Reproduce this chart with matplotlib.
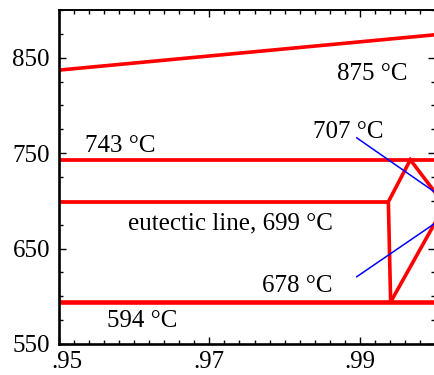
import numpy as np
import matplotlib.pyplot as plt
import matplotlib.transforms as mtransforms
from matplotlib.ticker import MultipleLocator, FixedLocator, FixedFormatter

plt.rcParams['font.family'] = ['Liberation Serif', 'DejaVu Serif']

# phase boundaries (mole fraction, temperature in C)
liquidus_x = [0.95, 1.0]
liquidus_t = [837, 874]
t_743 = 743
t_699 = 699
t_594 = 594
eutectic_end = 0.9938
bound_x = [0.9941, 0.9938, 0.99672, 1.0]
bound_t = [594, 699, 743, 709]
lower_x = [0.9941, 1.0]
lower_t = [594, 677]

# pointer lines for labels
ptr707_x = [0.9896, 1.0]
ptr707_t = [766, 709]
ptr678_x = [0.9896, 1.0]
ptr678_t = [620.5, 676.5]

# labels: (x, t, text, ha)
labels = [
    (0.99161, 826.6, '875 °C', 'center'),
    (0.98846, 765.6, '707 °C', 'center'),
    (0.95346, 751.5, '743 °C', 'left'),
    (0.95922, 669.5, 'eutectic line, 699 °C', 'left'),
    (0.98163, 604.8, '678 °C', 'center'),
    (0.95635, 567.8, '594 °C', 'left'),
]

fig = plt.figure(figsize=(4.35, 3.75), dpi=100)
ax = fig.add_axes([0.1356, 0.0827, 0.8644, 0.8907])

red = '#ff0000'
ax.plot(liquidus_x, liquidus_t, color=red, lw=2.6, solid_capstyle='butt')
ax.plot([0.95, 1.0], [t_743, t_743], color=red, lw=2.7, solid_capstyle='butt')
ax.plot([0.95, eutectic_end], [t_699, t_699], color=red, lw=2.7, solid_capstyle='butt')
ax.plot([0.95, 1.0], [t_594, t_594], color=red, lw=3.3, solid_capstyle='butt')
ax.plot(bound_x, bound_t, color=red, lw=2.6, solid_joinstyle='miter')
ax.plot(lower_x, lower_t, color=red, lw=2.6)
ax.plot(ptr707_x, ptr707_t, color='#0000ff', lw=1.1)
ax.plot(ptr678_x, ptr678_t, color='#0000ff', lw=1.1)

fs = 18
for x, t, s, ha in labels:
    ax.text(x, t, s, fontsize=fs, ha=ha, va='baseline')

ax.set_xlim(0.95, 1.0)
ax.set_ylim(550, 900)

ax.xaxis.set_major_locator(FixedLocator([0.95, 0.97, 0.99]))
ax.xaxis.set_major_formatter(FixedFormatter(['.95', '.97', '.99']))
ax.xaxis.set_minor_locator(MultipleLocator(0.002))
ax.yaxis.set_major_locator(FixedLocator([550, 650, 750, 850]))
ax.yaxis.set_minor_locator(MultipleLocator(25))

ax.tick_params(which='both', direction='in', top=True, right=True, labelsize=fs, width=1)
ax.tick_params(which='major', length=5)
ax.tick_params(which='minor', length=3)
ax.tick_params(axis='x', pad=5)
ax.tick_params(axis='y', pad=6.5)
ax.spines['right'].set_visible(False)
ax.spines['left'].set_linewidth(1.9)
ax.spines['bottom'].set_linewidth(1.9)
ax.spines['top'].set_linewidth(1.4)

# first x label sits a bit right of its tick in the original
lbl = ax.xaxis.get_major_ticks()[0].label1
lbl.set_transform(lbl.get_transform() + mtransforms.ScaledTranslation(8 / 100, 0, fig.dpi_scale_trans))

fig.savefig('out.png', dpi=100)
